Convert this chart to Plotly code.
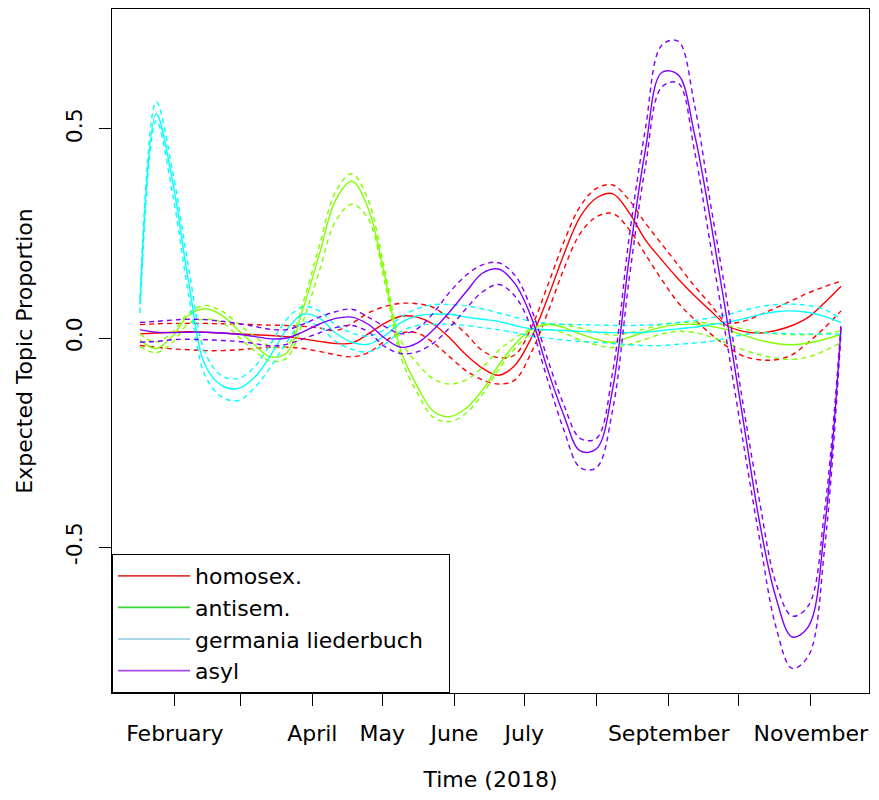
import plotly.graph_objects as go

# ---------------- data ----------------
dates = ["2018-01-17", "2018-01-24", "2018-01-31", "2018-02-07", "2018-02-14", "2018-02-21",
         "2018-02-28", "2018-03-07", "2018-03-14", "2018-03-21", "2018-03-28", "2018-04-04",
         "2018-04-11", "2018-04-18", "2018-04-25", "2018-05-02", "2018-05-09", "2018-05-16",
         "2018-05-23", "2018-05-30", "2018-06-06", "2018-06-13", "2018-06-20", "2018-06-27",
         "2018-07-04", "2018-07-11", "2018-07-18", "2018-07-25", "2018-08-01", "2018-08-08",
         "2018-08-15", "2018-08-22", "2018-08-29", "2018-09-05", "2018-09-12", "2018-09-19",
         "2018-09-26", "2018-10-03", "2018-10-10", "2018-10-17", "2018-10-24", "2018-10-31",
         "2018-11-07", "2018-11-14"]

homosex_mean = [0.010, 0.012, 0.014, 0.015, 0.014, 0.012, 0.010, 0.008, 0.006, 0.003, -0.002, -0.008,
                -0.013, -0.012, 0.010, 0.035, 0.052, 0.050, 0.033, 0.000, -0.040, -0.072, -0.089, -0.065,
                0.000, 0.095, 0.200, 0.290, 0.335, 0.345, 0.300, 0.235, 0.187, 0.142, 0.102, 0.065,
                0.030, 0.016, 0.012, 0.018, 0.030, 0.050, 0.085, 0.124]
homosex_upper = [0.032, 0.034, 0.035, 0.035, 0.035, 0.034, 0.033, 0.032, 0.031, 0.030, 0.028, 0.024,
                 0.018, 0.035, 0.060, 0.075, 0.083, 0.082, 0.073, 0.045, 0.010, -0.030, -0.047, -0.040,
                 0.025, 0.125, 0.230, 0.315, 0.358, 0.366, 0.330, 0.275, 0.225, 0.175, 0.125, 0.080,
                 0.037, 0.040, 0.055, 0.072, 0.090, 0.108, 0.123, 0.136]
homosex_lower = [-0.018, -0.022, -0.026, -0.028, -0.030, -0.030, -0.028, -0.025, -0.022, -0.022, -0.025, -0.032,
                 -0.040, -0.045, -0.035, -0.008, 0.012, 0.012, -0.012, -0.045, -0.078, -0.100, -0.110, -0.100,
                 -0.035, 0.060, 0.165, 0.250, 0.290, 0.298, 0.260, 0.200, 0.140, 0.085, 0.045, 0.010,
                 -0.020, -0.043, -0.052, -0.052, -0.040, -0.010, 0.025, 0.065]

antisem_mean = [-0.005, -0.025, 0.005, 0.055, 0.070, 0.055, 0.020, -0.015, -0.045, -0.035, 0.070, 0.200,
                0.330, 0.375, 0.310, 0.150, -0.030, -0.115, -0.175, -0.188, -0.168, -0.125, -0.065, -0.015,
                0.020, 0.033, 0.025, 0.010, -0.003, -0.010, 0.002, 0.015, 0.026, 0.032, 0.033, 0.028,
                0.020, 0.007, -0.005, -0.013, -0.016, -0.012, -0.003, 0.009]
antisem_upper = [0.010, -0.010, 0.015, 0.060, 0.078, 0.065, 0.035, 0.005, -0.020, -0.020, 0.085, 0.220,
                 0.350, 0.393, 0.330, 0.165, -0.005, -0.060, -0.098, -0.110, -0.100, -0.070, -0.030, 0.000,
                 0.022, 0.032, 0.032, 0.024, 0.014, 0.007, 0.012, 0.022, 0.032, 0.037, 0.038, 0.035,
                 0.030, 0.022, 0.014, 0.010, 0.008, 0.008, 0.010, 0.017]
antisem_lower = [-0.020, -0.035, -0.010, 0.035, 0.045, 0.038, 0.005, -0.030, -0.055, -0.048, 0.040, 0.160,
                 0.280, 0.320, 0.285, 0.135, -0.045, -0.130, -0.190, -0.200, -0.180, -0.135, -0.075, -0.025,
                 0.010, 0.020, 0.012, -0.005, -0.016, -0.023, -0.015, -0.003, 0.010, 0.016, 0.013, 0.003,
                 -0.012, -0.028, -0.040, -0.048, -0.051, -0.045, -0.030, -0.011]

germania_mean = [0.080, 0.536, 0.375, 0.130, -0.065, -0.113, -0.121, -0.095, -0.042, 0.020, 0.057, 0.048,
                 0.012, -0.010, -0.015, 0.005, 0.037, 0.053, 0.057, 0.057, 0.050, 0.045, 0.040, 0.030,
                 0.022, 0.020, 0.018, 0.016, 0.014, 0.013, 0.013, 0.014, 0.018, 0.022, 0.026, 0.032,
                 0.038, 0.046, 0.056, 0.063, 0.065, 0.061, 0.052, 0.037]
germania_upper = [0.095, 0.565, 0.400, 0.165, -0.035, -0.090, -0.097, -0.070, -0.015, 0.045, 0.075, 0.065,
                  0.032, 0.012, 0.005, 0.020, 0.050, 0.070, 0.080, 0.080, 0.077, 0.070, 0.060, 0.050,
                  0.040, 0.035, 0.033, 0.032, 0.031, 0.030, 0.030, 0.031, 0.033, 0.037, 0.042, 0.048,
                  0.056, 0.066, 0.075, 0.080, 0.081, 0.078, 0.068, 0.045]
germania_lower = [0.060, 0.520, 0.345, 0.100, -0.090, -0.140, -0.150, -0.120, -0.070, -0.010, 0.037, 0.028,
                  -0.008, -0.027, -0.033, -0.015, 0.015, 0.030, 0.033, 0.033, 0.030, 0.025, 0.020, 0.013,
                  0.005, 0.000, -0.005, -0.008, -0.010, -0.013, -0.016, -0.018, -0.018, -0.015, -0.012, -0.008,
                  0.000, 0.008, 0.012, 0.012, 0.010, 0.010, 0.010, 0.009]

asyl_mean = [0.020, 0.014, 0.013, 0.014, 0.014, 0.012, 0.009, 0.004, -0.002, 0.000, 0.015, 0.033,
             0.047, 0.050, 0.033, 0.000, -0.022, -0.012, 0.020, 0.063, 0.110, 0.155, 0.165, 0.130,
             0.050, -0.075, -0.185, -0.270, -0.265, -0.120, 0.190, 0.450, 0.635, 0.630, 0.490, 0.280,
             0.045, -0.197, -0.440, -0.620, -0.715, -0.690, -0.450, 0.025]
asyl_upper = [0.037, 0.040, 0.043, 0.045, 0.044, 0.040, 0.035, 0.028, 0.021, 0.020, 0.033, 0.050,
              0.063, 0.069, 0.050, 0.028, 0.010, 0.022, 0.060, 0.110, 0.150, 0.175, 0.180, 0.150,
              0.070, -0.050, -0.160, -0.240, -0.240, -0.080, 0.240, 0.500, 0.700, 0.710, 0.560, 0.320,
              0.090, -0.160, -0.390, -0.585, -0.665, -0.640, -0.410, 0.035]
asyl_lower = [-0.010, -0.008, -0.004, -0.003, -0.004, -0.006, -0.008, -0.013, -0.019, -0.015, -0.002, 0.012,
              0.025, 0.030, 0.015, -0.020, -0.037, -0.033, -0.012, 0.025, 0.070, 0.110, 0.128, 0.100,
              0.025, -0.100, -0.220, -0.310, -0.310, -0.170, 0.140, 0.410, 0.600, 0.610, 0.450, 0.220,
              -0.010, -0.250, -0.480, -0.690, -0.790, -0.760, -0.500, 0.015]

topic_labels = ["homosex.", "antisem.", "germania liederbuch", "asyl"]
topic_colors = ["#FF0000", "#80FF00", "#00FFFF", "#8000FF"]
legend_colors = ["#E03A3A", "#33D633", "#A8D8E8", "#A64CEB"]

x_tick_dates = ["2018-02-01", "2018-03-01", "2018-04-01", "2018-05-01", "2018-06-01",
                "2018-07-01", "2018-08-01", "2018-09-01", "2018-10-01", "2018-11-01"]
x_tick_text = ["February", "", "April", "May", "June", "July", "", "September", "", "November"]
y_tick_vals = [-0.5, 0.0, 0.5]
y_tick_text = ["-0.5", "0.0", "0.5"]

series = [
    (homosex_mean, homosex_lower, homosex_upper),
    (antisem_mean, antisem_lower, antisem_upper),
    (germania_mean, germania_lower, germania_upper),
    (asyl_mean, asyl_lower, asyl_upper),
]

# ---------------- figure ----------------
FONT = "DejaVu Sans"
FS = 22
fig = go.Figure()
for label, color, (mean, lower, upper) in zip(topic_labels, topic_colors, series):
    fig.add_trace(go.Scatter(x=dates, y=mean, mode="lines", name=label, showlegend=False,
                             line=dict(color=color, width=1.4, shape="spline", smoothing=1.0)))
    for band in (lower, upper):
        fig.add_trace(go.Scatter(x=dates, y=band, mode="lines", showlegend=False, hoverinfo="skip",
                                 line=dict(color=color, width=1.4, dash="5px,4px",
                                           shape="spline", smoothing=1.0)))

# legend entries (the reference legend uses its own, lighter colours);
# trailing no-break spaces on the widest entry reproduce the box's right padding
widest = max(len(t) for t in topic_labels)
for label, lcolor in zip(topic_labels, legend_colors):
    shown = label + ("\u00a0" * 3 if len(label) == widest else "")
    fig.add_trace(go.Scatter(x=[None], y=[None], mode="lines", name=shown,
                             line=dict(color=lcolor, width=1.8)))

fig.update_layout(
    width=863, height=784,
    margin=dict(l=104, r=2, t=1, b=99),
    paper_bgcolor="white", plot_bgcolor="white",
    font=dict(family=FONT, size=FS, color="black"),
    showlegend=True,
    legend=dict(x=0, y=0, xanchor="left", yanchor="bottom",
                bgcolor="white", bordercolor="black", borderwidth=1,
                font=dict(family=FONT, size=FS, color="black"),
                itemwidth=72, tracegroupgap=0),
)
fig.update_xaxes(
    type="date", range=["2018-01-05", "2018-11-26"],
    tickmode="array", tickvals=x_tick_dates, ticktext=x_tick_text,
    ticks="outside", ticklen=12, tickcolor="black", tickwidth=1,
    showline=True, linecolor="black", linewidth=1, mirror=True,
    showgrid=False, zeroline=False, ticklabelstandoff=9,
    title=dict(text="Time (2018)", standoff=32, font=dict(size=FS)),
    automargin=False,
)
fig.update_yaxes(
    range=[-0.849, 0.787],
    tickmode="array", tickvals=y_tick_vals, ticktext=y_tick_text, tickangle=-90,
    ticks="outside", ticklen=12, tickcolor="black", tickwidth=1,
    showline=True, linecolor="black", linewidth=1, mirror=True,
    showgrid=False, zeroline=False, ticklabelstandoff=8,
    title=dict(text="Expected Topic Proportion", standoff=23, font=dict(size=FS)),
    automargin=False,
)

fig.write_html("out.html")
